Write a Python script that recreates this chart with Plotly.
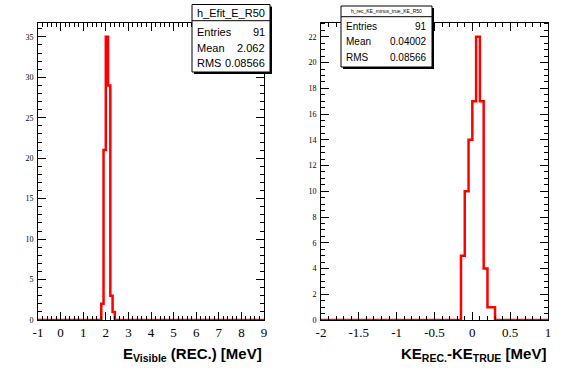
import plotly.graph_objects as go

W, H = 567, 384

# ---- data ----
e_range = [-1, 9]
e_bin_lo = [1.8, 1.9, 2.0, 2.1, 2.2, 2.3]
e_bin_w = 0.1
e_counts = [2, 21, 35, 29, 3, 1]
e_stats_title = "h_Efit_E_R50"
e_stats = [("Entries", "91"), ("Mean", "2.062"), ("RMS", "0.08566")]

k_range = [-2, 1]
k_bin_lo = [-0.15, -0.10, -0.05, 0.0, 0.05, 0.10, 0.15, 0.20, 0.25]
k_bin_w = 0.05
k_counts = [5, 10, 14, 17, 22, 17, 4, 1, 1]
k_stats_title = "h_rec_KE_minus_true_KE_R50"
k_stats = [("Entries", "91"), ("Mean", "0.04002"), ("RMS", "0.08566")]

e_ticks = [-1, 0, 1, 2, 3, 4, 5, 6, 7, 8, 9]
e_ticklabels = ["-1", "0", "1", "2", "3", "4", "5", "6", "7", "8", "9"]
k_ticks = [-2, -1.5, -1, -0.5, 0, 0.5, 1]
k_ticklabels = ["-2", "-1.5", "-1", "-0.5", "0", "0.5", "1"]


def step_xy(rng, lo, w, counts):
    xs = [rng[0]]
    ys = [0]
    for l, c in zip(lo, counts):
        xs.append(l)
        ys.append(c)
    xs.append(lo[-1] + w)
    ys.append(0)
    xs.append(rng[1])
    ys.append(0)
    return xs, ys


fig = go.Figure()
ex, ey = step_xy(e_range, e_bin_lo, e_bin_w, e_counts)
kx, ky = step_xy(k_range, k_bin_lo, k_bin_w, k_counts)
fig.add_trace(go.Scatter(x=ex, y=ey, mode="lines", line=dict(color="#ff0000", width=2.5, shape="hv"),
                         xaxis="x", yaxis="y", hoverinfo="skip"))
fig.add_trace(go.Scatter(x=kx, y=ky, mode="lines", line=dict(color="#ff0000", width=2.5, shape="hv"),
                         xaxis="x2", yaxis="y2", hoverinfo="skip"))

ytop = 384 - 22.7
ybot = 384 - 320
ydom = [ybot / H, ytop / H]

tickfont_x = dict(family="Liberation Serif, Times New Roman, serif", size=13, color="black")
tickfont_y = dict(family="Liberation Serif, Times New Roman, serif", size=8, color="black")

def xax(domain, rng, tv, tt, mdtick):
    return dict(domain=domain, range=rng, tickmode="array", tickvals=tv, ticktext=tt,
                showgrid=False, zeroline=False,
                showline=True, linecolor="black", linewidth=1, mirror="ticks",
                ticks="inside", ticklen=8, tickcolor="black", tickwidth=1, tickfont=tickfont_x,
                minor=dict(dtick=mdtick, tick0=rng[0], ticks="inside", ticklen=4, tickcolor="black", showgrid=False),
                fixedrange=True, automargin=False)

def yax(anchor, rng, dtick, mdtick):
    return dict(domain=ydom, range=rng, dtick=dtick, tick0=0, showgrid=False, zeroline=False,
                showline=True, linecolor="black", linewidth=1, mirror="ticks", anchor=anchor,
                ticks="inside", ticklen=8, tickcolor="black", tickwidth=1, tickfont=tickfont_y,
                ticklabelstandoff=2,
                minor=dict(dtick=mdtick, tick0=0, ticks="inside", ticklen=4, tickcolor="black", showgrid=False),
                fixedrange=True, automargin=False)

fig.update_layout(
    width=W, height=H, margin=dict(l=0, r=0, t=0, b=0, autoexpand=False),
    paper_bgcolor="white", plot_bgcolor="white", showlegend=False,
    xaxis=xax([38 / W, 264 / W], e_range, e_ticks, e_ticklabels, 0.2) | dict(anchor="y"),
    yaxis=yax("x", [0, max(e_counts) * 1.05], 5, 1),
    xaxis2=xax([321 / W, 548 / W], k_range, k_ticks, k_ticklabels, 0.1) | dict(anchor="y2"),
    yaxis2=yax("x2", [0, max(k_counts) * 1.05], 2, 0.5),
)

shapes = []
annots = []

def px(x):
    return x / W

def py(y):
    return 1 - y / H

def stats_box(x0, x1, y0, y1, ysep, title, title_size, rows, row_ys, size):
    shapes.append(dict(type="rect", xref="paper", yref="paper", x0=px(x0 + 2), x1=px(x1 + 2),
                       y0=py(y1 + 2), y1=py(y0 + 2), fillcolor="black", line=dict(width=0), layer="above"))
    shapes.append(dict(type="rect", xref="paper", yref="paper", x0=px(x0), x1=px(x1),
                       y0=py(y1), y1=py(y0), fillcolor="white", line=dict(color="black", width=1), layer="above"))
    shapes.append(dict(type="line", xref="paper", yref="paper", x0=px(x0), x1=px(x1),
                       y0=py(ysep), y1=py(ysep), line=dict(color="black", width=1), layer="above"))
    annots.append(dict(x=px((x0 + x1) / 2), y=py((y0 + ysep) / 2), xref="paper", yref="paper",
                       text=title, showarrow=False, xanchor="center", yanchor="middle",
                       font=dict(family="Liberation Sans", size=title_size, color="black")))
    for (lab, val), yy in zip(rows, row_ys):
        annots.append(dict(x=px(x0 + 3), y=py(yy), xref="paper", yref="paper", text=lab, showarrow=False,
                           xanchor="left", yanchor="middle",
                           font=dict(family="Liberation Sans", size=size, color="black")))
        annots.append(dict(x=px(x1 - 3), y=py(yy), xref="paper", yref="paper", text=val, showarrow=False,
                           xanchor="right", yanchor="middle",
                           font=dict(family="Liberation Sans", size=size, color="black")))

stats_box(192, 270, 4.5, 72, 20.7, e_stats_title, 11, e_stats, [31.7, 48.3, 63.3], 11)
stats_box(341, 432, 6, 67, 16.7, k_stats_title, 5, k_stats, [26, 41.7, 57.3], 10)

annots.append(dict(x=px(264), y=py(354), xref="paper", yref="paper",
                   text="<b>E<sub>Visible</sub> (REC.) [MeV]</b>", showarrow=False,
                   xanchor="right", yanchor="middle",
                   font=dict(family="Liberation Sans", size=15, color="black")))
annots.append(dict(x=px(548), y=py(354), xref="paper", yref="paper",
                   text="<b>KE<sub>REC.</sub>-KE<sub>TRUE</sub> [MeV]</b>", showarrow=False,
                   xanchor="right", yanchor="middle",
                   font=dict(family="Liberation Sans", size=15, color="black")))

fig.update_layout(shapes=shapes, annotations=annots)
fig.write_html("out.html", config={"displayModeBar": False},
               post_script="document.body.style.margin='0';")
